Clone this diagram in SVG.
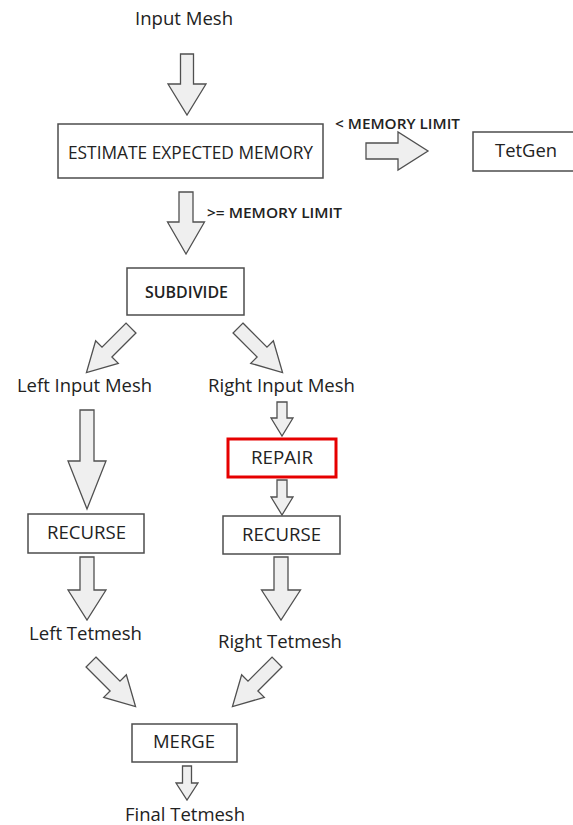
<svg xmlns="http://www.w3.org/2000/svg" width="573" height="825" viewBox="0 0 573 825">
<style>
.box{fill:#ffffff;stroke:#4d4d4d;stroke-width:1.5}
.red{fill:#ffffff;stroke:#e60000;stroke-width:3}
.arr{fill:#efefef;stroke:#505050;stroke-width:1.3;stroke-linejoin:miter}
text{font-family:"Open Sans","Noto Sans","DejaVu Sans",sans-serif;fill:#222222;text-anchor:middle;font-weight:500}
.t{font-size:18px}
.b{font-size:15px;font-weight:600}
.sub{font-size:16.5px;font-weight:600}
.est{font-size:19px}
</style>
<defs>
<polygon id="diag" class="arr" points="0,-7 34,-7 34,-16 63,0 34,16 34,7 0,7"/>
</defs>
<rect width="573" height="825" fill="#ffffff"/>

<g id="connectors">
<polygon class="arr" points="180.5,54 193.5,54 193.5,84 206,84 187,115 168,84 180.5,84"/>
<polygon class="arr" points="366,143 398,143 398,132 428,151 398,170 398,159 366,159"/>
<polygon class="arr" points="179,192 193,192 193,222 204.5,222 186,254 167.5,222 179,222"/>
<use href="#diag" transform="translate(131,328) rotate(135)"/>
<use href="#diag" transform="translate(238,328) rotate(45)"/>
<polygon class="arr" points="80,410 94,410 94,461 106,461 87,509 68,461 80,461"/>
<polygon class="arr" points="277,402 287,402 287,418 293,418 282,436 271,418 277,418"/>
<polygon class="arr" points="277,480 287,480 287,497 293,497 282,515 271,497 277,497"/>
<polygon class="arr" points="80,557 94,557 94,590 106,590 87,620 68,590 80,590"/>
<polygon class="arr" points="274,557 288,557 288,590 300.5,590 281,620 261.5,590 274,590"/>
<use href="#diag" transform="translate(91,662) rotate(45)"/>
<use href="#diag" transform="translate(277,662) rotate(135)"/>
<polygon class="arr" points="182.5,766 191.5,766 191.5,783 198,783 187,800 176,783 182.5,783"/>
</g>

<g id="input-mesh"><text class="t" x="184" y="25" textLength="98" lengthAdjust="spacingAndGlyphs">Input Mesh</text></g>

<g id="estimate">
<rect class="box" x="58" y="124" width="265" height="54"/>
<text class="est" x="190.5" y="159" textLength="245" lengthAdjust="spacingAndGlyphs">ESTIMATE EXPECTED MEMORY</text>
</g>

<g id="lt-label"><text class="b" x="397.5" y="129" textLength="125" lengthAdjust="spacingAndGlyphs">&lt; MEMORY LIMIT</text></g>

<g id="tetgen">
<rect class="box" x="473" y="132" width="110" height="39"/>
<text class="t" x="526" y="157" textLength="62" lengthAdjust="spacingAndGlyphs">TetGen</text>
</g>

<g id="ge-label"><text class="b" x="274.5" y="218" textLength="135" lengthAdjust="spacingAndGlyphs">&gt;= MEMORY LIMIT</text></g>

<g id="subdivide">
<rect class="box" x="127" y="268" width="117" height="47"/>
<text class="sub" x="186.5" y="298" textLength="83" lengthAdjust="spacingAndGlyphs">SUBDIVIDE</text>
</g>

<g id="left-input"><text class="t" x="84.5" y="392" textLength="135" lengthAdjust="spacingAndGlyphs">Left Input Mesh</text></g>
<g id="right-input"><text class="t" x="281.5" y="392" textLength="147" lengthAdjust="spacingAndGlyphs">Right Input Mesh</text></g>

<g id="repair">
<rect class="red" x="228" y="439" width="108" height="38"/>
<text class="t" x="282" y="464" textLength="62" lengthAdjust="spacingAndGlyphs">REPAIR</text>
</g>

<g id="recurse-left">
<rect class="box" x="28" y="514" width="116" height="39"/>
<text class="t" x="86.5" y="539" textLength="79" lengthAdjust="spacingAndGlyphs">RECURSE</text>
</g>

<g id="recurse-right">
<rect class="box" x="223" y="516" width="117" height="38"/>
<text class="t" x="281.5" y="541" textLength="79" lengthAdjust="spacingAndGlyphs">RECURSE</text>
</g>

<g id="left-tetmesh"><text class="t" x="85.5" y="640" textLength="113" lengthAdjust="spacingAndGlyphs">Left Tetmesh</text></g>
<g id="right-tetmesh"><text class="t" x="280" y="648" textLength="124" lengthAdjust="spacingAndGlyphs">Right Tetmesh</text></g>

<g id="merge">
<rect class="box" x="132" y="724" width="105" height="38"/>
<text class="t" x="184" y="748" textLength="62" lengthAdjust="spacingAndGlyphs">MERGE</text>
</g>

<g id="final-tetmesh"><text class="t" x="185" y="821" textLength="120" lengthAdjust="spacingAndGlyphs">Final Tetmesh</text></g>
</svg>
